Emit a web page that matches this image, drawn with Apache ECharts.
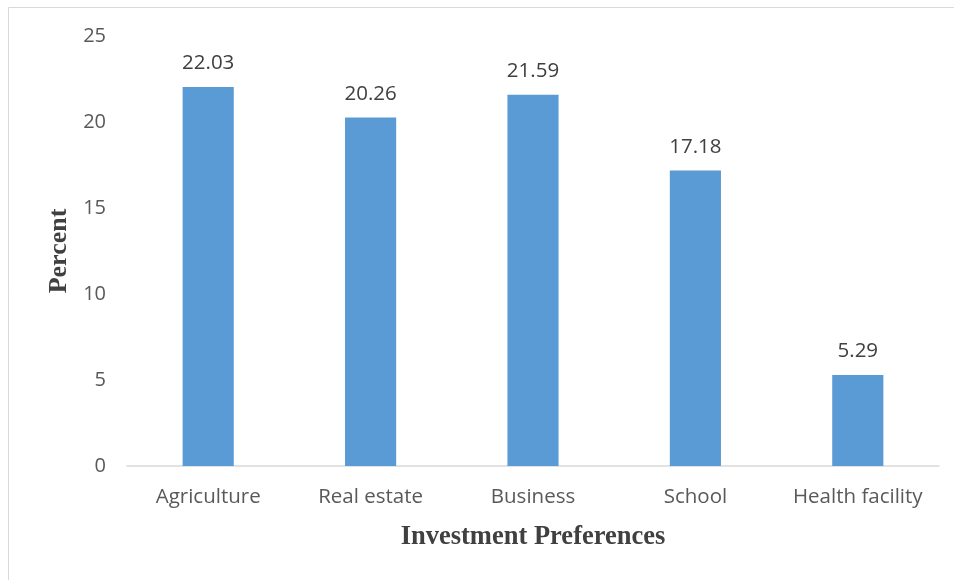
<!DOCTYPE html>
<html><head><meta charset="utf-8">
<script src="https://cdn.jsdelivr.net/npm/echarts@6/dist/echarts.min.js"></script>
<style>html,body{margin:0;padding:0;background:#fff}#c{width:954px;height:580px}</style>
</head><body><div id="c"></div>
<script>
const categories = ["Agriculture", "Real estate", "Business", "School", "Health facility"];
const values = [22.03, 20.26, 21.59, 17.18, 5.29];
const yTicks = [0, 5, 10, 15, 20, 25];

const chart = echarts.init(document.getElementById('c'));
chart.setOption({
  animation: false,
  backgroundColor: '#fff',
  graphic: [{
    type: 'rect', silent: true,
    shape: { x: 8.5, y: 7.5, width: 1200, height: 1200 },
    style: { fill: 'none', stroke: '#d9d9d9', lineWidth: 1 }
  }],
  grid: { left: 127, right: 15, top: 36, bottom: 114 },
  xAxis: {
    type: 'category', data: categories,
    name: 'Investment Preferences', nameLocation: 'middle', nameGap: 58,
    nameTextStyle: { fontFamily: 'Liberation Serif', fontWeight: 'bold', fontSize: 26.5, color: '#404040' },
    axisLine: { lineStyle: { color: '#d9d9d9', width: 1.5 } },
    axisTick: { show: false },
    axisLabel: { interval: 0, hideOverlap: false, fontFamily: 'Open Sans', fontSize: 20.5, color: '#595959', margin: 21 }
  },
  yAxis: {
    type: 'value', min: yTicks[0], max: yTicks[yTicks.length - 1], interval: 5,
    name: 'Percent', nameLocation: 'middle', nameGap: 55, nameRotate: 90,
    nameTextStyle: { fontFamily: 'Liberation Serif', fontWeight: 'bold', fontSize: 26, color: '#404040' },
    splitLine: { show: false },
    axisLine: { show: false }, axisTick: { show: false },
    axisLabel: { fontFamily: 'Open Sans', fontSize: 20, color: '#595959', margin: 21 }
  },
  series: [{
    type: 'bar', data: values, barWidth: '31.5%',
    itemStyle: { color: '#5b9bd5' },
    label: { show: true, position: 'top', distance: 13, fontFamily: 'Open Sans', fontSize: 20.5, color: '#404040',
      formatter: p => p.value.toFixed(2) }
  }]
});
</script></body></html>
